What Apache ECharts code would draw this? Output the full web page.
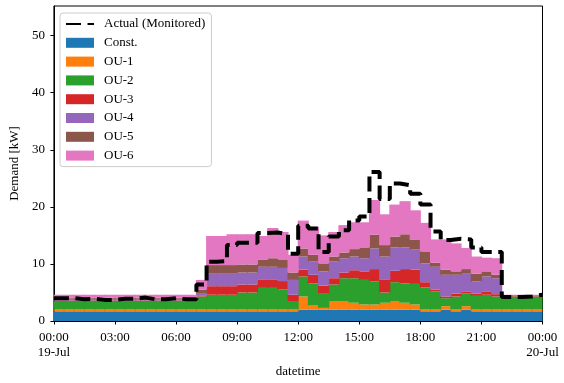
<!DOCTYPE html>
<html>
<head>
<meta charset="utf-8">
<script src="https://cdn.jsdelivr.net/npm/echarts@6/dist/echarts.min.js"></script>
<style>
  html, body { margin: 0; padding: 0; background: #fff; }
  #main { width: 564px; height: 383px; }
</style>
</head>
<body>
<div id="main"></div>
<script>
// 48 half-hour slots over 19-Jul; the line axis gets one more point for 00:00 20-Jul
var slots = [];
for (var i = 0; i < 48; i++) slots.push(i);
var edges = slots.concat([48]);

// demand per half hour [kW]
var actual = [4.0, 4.0, 3.8, 3.9, 3.7, 3.7, 3.9, 3.9, 4.1, 3.8, 3.8, 4.0, 3.8, 3.8,
  6.4, 10.4, 10.5, 13.3, 13.7, 13.7, 15.4, 15.5, 15.2, 11.8,
  16.7, 16.2, 12.1, 14.8, 15.9, 17.6, 18.3, 26.1, 21.4, 24.1, 23.8, 22.3,
  20.4, 15.7, 14.2, 14.4, 14.3, 12.9, 12.1, 12.1, 4.2, 4.2, 4.3, 4.6];

var constLoad = [1.7, 1.7, 1.7, 1.7, 1.7, 1.7, 1.7, 1.7, 1.7, 1.7, 1.7, 1.7, 1.7, 1.7,
  1.7, 1.7, 1.7, 1.7, 1.7, 1.7, 1.7, 1.7, 1.7, 1.7,
  2.0, 2.0, 2.0, 2.0, 2.0, 2.0, 2.0, 2.0, 2.0, 2.0, 2.0, 2.0,
  1.7, 1.7, 2.0, 1.7, 2.0, 1.7, 1.7, 1.7, 1.7, 1.7, 1.7, 1.7];
var ou1 = [0.3, 0.3, 0.3, 0.3, 0.3, 0.3, 0.3, 0.3, 0.3, 0.3, 0.3, 0.3, 0.3, 0.3,
  0.3, 0.3, 0.3, 0.3, 0.3, 0.3, 0.3, 0.3, 0.3, 0.3,
  2.3, 0.7, 0.3, 1.5, 1.5, 1.2, 0.9, 0.9, 1.2, 1.4, 1.2, 0.9,
  0.3, 0.3, 0.6, 0.3, 0.6, 0.3, 0.3, 0.3, 0.3, 0.3, 0.3, 0.3];
var ou2 = [1.5, 1.5, 1.5, 1.5, 1.5, 1.5, 1.5, 1.5, 1.5, 1.5, 1.5, 1.5, 1.5, 1.5,
  2.3, 2.6, 2.6, 2.6, 3.0, 3.0, 3.8, 3.8, 3.5, 1.5,
  3.5, 3.9, 2.6, 2.9, 4.0, 4.3, 4.3, 4.0, 1.8, 3.4, 3.4, 3.6,
  3.9, 3.2, 1.4, 2.3, 2.2, 2.4, 2.6, 2.3, 2.3, 2.3, 2.3, 2.3];
var ou3 = [0.1, 0.1, 0.1, 0.1, 0.1, 0.1, 0.1, 0.1, 0.1, 0.1, 0.1, 0.1, 0.1, 0.1,
  0.1, 1.5, 1.5, 1.5, 1.4, 1.4, 1.4, 1.4, 1.5, 1.1,
  1.2, 1.5, 1.3, 1.1, 1.0, 1.4, 1.5, 2.2, 2.2, 2.0, 2.5, 2.5,
  0.9, 0.3, 0.3, 0.5, 0.4, 0.4, 0.6, 0.4, 0.2, 0.2, 0.2, 0.2];
var ou4 = [0.3, 0.3, 0.3, 0.3, 0.3, 0.3, 0.3, 0.3, 0.3, 0.3, 0.3, 0.3, 0.3, 0.3,
  0.5, 2.3, 2.3, 2.3, 2.1, 2.1, 2.3, 2.3, 2.3, 2.6,
  2.3, 2.3, 2.5, 2.9, 2.5, 2.4, 2.3, 3.6, 4.1, 4.1, 3.8, 3.5,
  3.3, 4.0, 3.8, 3.3, 3.2, 2.1, 2.6, 2.8, 0.0, 0.0, 0.0, 0.0];
var ou5 = [0.2, 0.2, 0.2, 0.2, 0.2, 0.2, 0.2, 0.2, 0.2, 0.2, 0.2, 0.2, 0.2, 0.2,
  0.6, 1.4, 1.4, 1.4, 1.4, 1.4, 1.2, 1.5, 1.5, 1.3,
  1.4, 1.2, 1.4, 0.9, 1.0, 1.3, 1.9, 2.4, 2.0, 1.9, 2.3, 1.7,
  2.1, 0.7, 0.9, 0.6, 0.7, 1.4, 0.9, 0.6, 0.0, 0.0, 0.0, 0.0];
var ou6 = [0.5, 0.5, 0.5, 0.5, 0.5, 0.5, 0.5, 0.5, 0.5, 0.5, 0.5, 0.5, 0.5, 0.5,
  1.7, 5.1, 5.1, 5.4, 5.3, 5.3, 4.2, 5.3, 4.8, 3.1,
  4.9, 4.9, 4.9, 4.3, 4.8, 4.7, 4.4, 6.1, 5.4, 5.6, 5.8, 5.2,
  5.0, 4.1, 5.3, 4.9, 3.7, 3.0, 2.4, 2.9, 0.1, 0.1, 0.1, 0.1];

var areaNames = ['Const.', 'OU-1', 'OU-2', 'OU-3', 'OU-4', 'OU-5', 'OU-6'];
var areaValues = [constLoad, ou1, ou2, ou3, ou4, ou5, ou6];
var colors = ['#1f77b4', '#ff7f0e', '#2ca02c', '#d62728', '#9467bd', '#8c564b', '#e377c2'];
var fontFamily = 'Liberation Serif';

function pad(n) { return (n < 10 ? '0' : '') + n; }

// each half hour is one stacked column, slightly overlapping its neighbours so no seams show
var series = areaNames.map(function (name, k) {
    return {
        name: name,
        type: 'bar',
        stack: 'demand',
        xAxisIndex: 0,
        barWidth: '110%',
        itemStyle: { color: colors[k] },
        data: areaValues[k]
    };
});
// measured demand as a post-step line, last value held until 24:00
series.push({
    name: 'Actual (Monitored)',
    type: 'line',
    xAxisIndex: 1,
    step: 'end',
    symbol: 'none',
    z: 5,
    lineStyle: { color: '#000', width: 4, type: [15, 6.5] },
    itemStyle: { color: '#000' },
    data: actual.concat([actual[actual.length - 1]])
});

var legendData = [{ name: 'Actual (Monitored)', itemStyle: { opacity: 0 } }].concat(
    areaNames.map(function (n) { return { name: n, icon: 'rect' }; })
);

var myChart = echarts.init(document.getElementById('main'));

option = {
    animation: false,
    grid: {
        left: 53.5,
        right: 21.5,
        top: 6,
        bottom: 58,
        show: true,
        borderColor: '#000',
        borderWidth: 1
    },
    legend: {
        data: legendData,
        orient: 'vertical',
        left: 60,
        top: 13,
        padding: [4, 6, 4, 5],
        itemWidth: 28,
        itemHeight: 10,
        itemGap: 4.8,
        borderColor: '#cccccc',
        borderWidth: 1,
        borderRadius: 3,
        backgroundColor: 'rgba(255,255,255,0.8)',
        textStyle: {
            fontFamily: fontFamily,
            fontSize: 13,
            lineHeight: 14,
            color: '#000',
            padding: [0, 0, 0, 5]
        }
    },
    xAxis: [{
        type: 'category',
        data: slots,
        boundaryGap: true,
        show: false
    }, {
        type: 'category',
        data: edges,
        boundaryGap: false,
        position: 'bottom',
        name: 'datetime',
        nameLocation: 'middle',
        nameGap: 44,
        nameTextStyle: { fontFamily: fontFamily, fontSize: 13, color: '#000' },
        splitLine: { show: false },
        axisLine: { lineStyle: { color: '#000', width: 1 } },
        axisTick: { inside: false, length: 3.5, interval: 5, lineStyle: { color: '#000' } },
        axisLabel: {
            fontFamily: fontFamily,
            fontSize: 13,
            color: '#000',
            margin: 9,
            lineHeight: 15,
            interval: 5,
            formatter: function (v) {
                var hr = Number(v) / 2;
                var s = pad(hr % 24) + ':00';
                if (hr === 0) return s + '\n19-Jul';
                if (hr === 24) return s + '\n20-Jul';
                return s;
            }
        }
    }],
    yAxis: {
        type: 'value',
        min: 0,
        max: 55.2,
        interval: 10,
        name: 'Demand [kW]',
        nameLocation: 'middle',
        nameGap: 27,
        nameTextStyle: { fontFamily: fontFamily, fontSize: 13, color: '#000' },
        splitLine: { show: false },
        axisLine: { show: true, lineStyle: { color: '#000', width: 1 } },
        axisTick: { show: true, inside: false, length: 3.5, lineStyle: { color: '#000' },
            customValues: [0, 10, 20, 30, 40, 50] },
        axisLabel: {
            fontFamily: fontFamily,
            fontSize: 13,
            color: '#000',
            margin: 9,
            customValues: [0, 10, 20, 30, 40, 50]
        }
    },
    series: series
};

myChart.setOption(option);
</script>
</body>
</html>
